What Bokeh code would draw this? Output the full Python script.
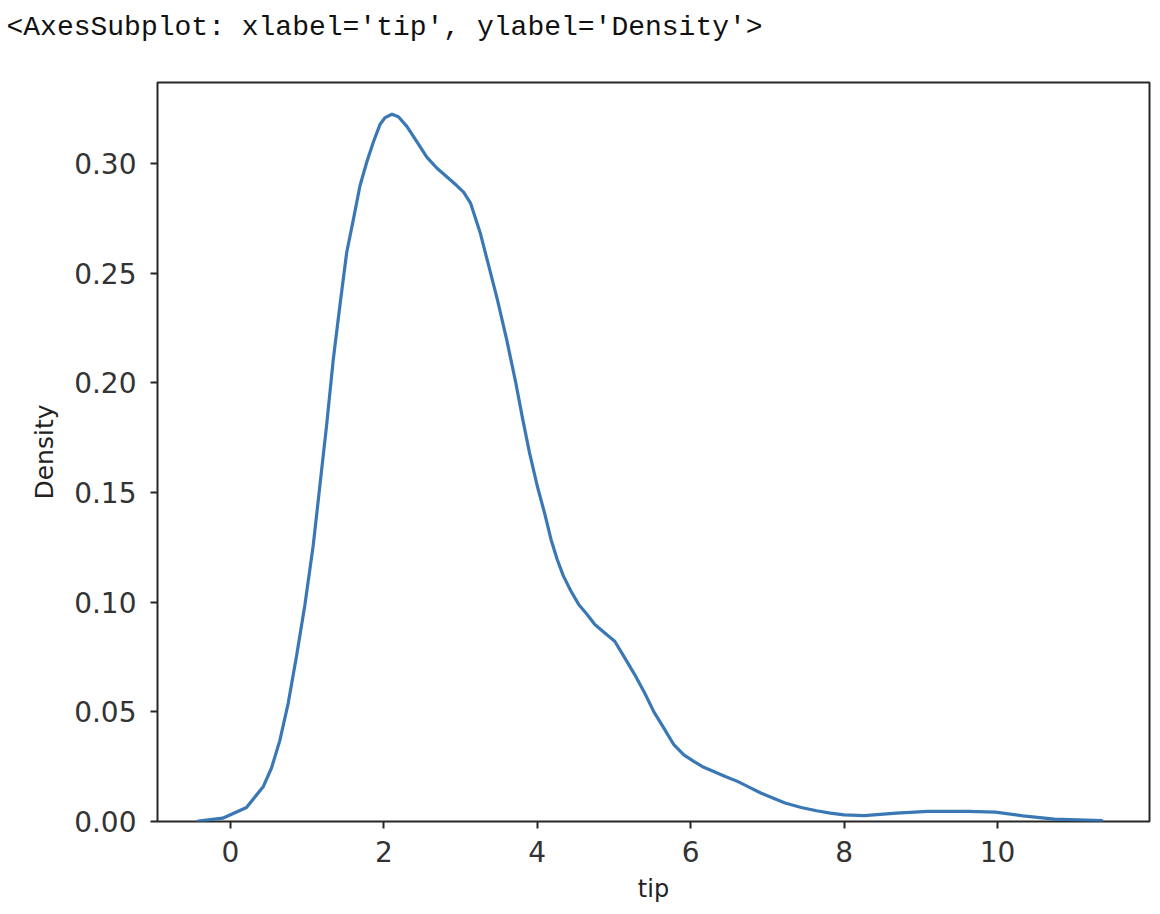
from bokeh.plotting import figure
from bokeh.models import FixedTicker, NumeralTickFormatter, Range1d, Title, ColumnDataSource
from bokeh.embed import file_html
from bokeh.resources import INLINE

# KDE curve of "tip"
tip = [-0.42, -0.10, 0.21, 0.43, 0.536, 0.645, 0.754, 0.86, 0.97, 1.08, 1.168, 1.255,
       1.342, 1.43, 1.516, 1.60, 1.69, 1.78, 1.865, 1.952, 2.017, 2.105, 2.19, 2.30,
       2.43, 2.56, 2.69, 2.82, 2.95, 3.04, 3.13, 3.26, 3.37, 3.48, 3.60, 3.72,
       3.81, 3.90, 4.00, 4.10, 4.18, 4.26, 4.34, 4.44, 4.54, 4.65, 4.75, 4.88, 5.01, 5.14,
       5.27, 5.40, 5.52, 5.65, 5.78, 5.91, 6.04, 6.17, 6.30, 6.45, 6.61, 6.76, 6.92,
       7.07, 7.23, 7.44, 7.64, 7.82, 8.00, 8.26, 8.68, 9.09, 9.61, 9.97, 10.33, 10.74,
       11.36]
density = [0.0002, 0.0015, 0.0064, 0.016, 0.0244, 0.037, 0.054, 0.075, 0.0985, 0.126,
           0.1536, 0.181, 0.211, 0.236, 0.2595, 0.274, 0.290, 0.301, 0.310, 0.318, 0.321,
           0.3225, 0.3214, 0.317, 0.310, 0.303, 0.298, 0.294, 0.290, 0.287, 0.282, 0.268,
           0.253, 0.238, 0.220, 0.200, 0.1835, 0.168, 0.153, 0.140, 0.1285, 0.1195, 0.112,
           0.105, 0.099, 0.0944, 0.0898, 0.086, 0.0822, 0.0746, 0.067, 0.0586, 0.050,
           0.0426, 0.035, 0.0304, 0.0274, 0.0247, 0.0228, 0.0205, 0.0183, 0.0157, 0.0129,
           0.0107, 0.0084, 0.0064, 0.0049, 0.0038, 0.0030, 0.0027, 0.0038, 0.0046, 0.0046,
           0.0043, 0.0026, 0.0011, 0.0004]

x_ticks = [0, 2, 4, 6, 8, 10]
y_ticks = [0.0, 0.05, 0.10, 0.15, 0.20, 0.25, 0.30]
header = "<AxesSubplot: xlabel='tip', ylabel='Density'>"

FRAME_TOP = 82
FRAME_H = 739

p = figure(width=1152, height=906, output_backend="svg", toolbar_location=None,
           x_range=Range1d(-0.95, 11.98), y_range=Range1d(0, 0.337),
           min_border_left=157, min_border_right=3, min_border_top=FRAME_TOP,
           min_border_bottom=85)
p.frame_width = 992
p.frame_height = FRAME_H

# spacer between the frame and the printed header line
p.add_layout(Title(text=" ", text_font_size="1px", standoff=37), "above")
# header line printed above the axes
p.add_layout(Title(text=header, align="left", text_font="Liberation Mono",
                   text_font_size="28px", text_font_style="normal", text_color="#111111",
                   offset=-151, standoff=0, vertical_align="bottom"), "above")

src = ColumnDataSource(data=dict(x=tip, y=density))
p.line("x", "y", source=src, line_color="#3a78b5", line_width=3.2,
       line_join="round", line_cap="round")

p.xgrid.visible = False
p.ygrid.visible = False
p.outline_line_color = "#262626"
p.outline_line_width = 2
p.background_fill_color = "white"
p.border_fill_color = "white"

for ax in (p.xaxis[0], p.yaxis[0]):
    ax.axis_line_color = None
    ax.major_tick_line_color = "#262626"
    ax.major_tick_line_width = 2
    ax.major_tick_out = 7
    ax.major_tick_in = 0
    ax.minor_tick_line_color = None
    ax.major_label_text_font = "DejaVu Sans"
    ax.major_label_text_font_size = "28px"
    ax.major_label_text_color = "#333333"
    ax.axis_label_text_font = "DejaVu Sans"
    ax.axis_label_text_font_style = "normal"
    ax.axis_label_text_color = "#222222"

p.xaxis.ticker = FixedTicker(ticks=x_ticks)
p.yaxis.ticker = FixedTicker(ticks=y_ticks)
p.yaxis.formatter = NumeralTickFormatter(format="0.00")
p.xaxis.axis_label = "tip"
p.yaxis.axis_label = "Density"
p.xaxis.axis_label_text_font_size = "24px"
p.yaxis.axis_label_text_font_size = "25px"
p.xaxis.major_label_standoff = 12
p.yaxis.major_label_standoff = 14
p.xaxis.axis_label_standoff = 10
p.yaxis.axis_label_standoff = 12

open("out.html", "w").write(file_html(p, INLINE))
